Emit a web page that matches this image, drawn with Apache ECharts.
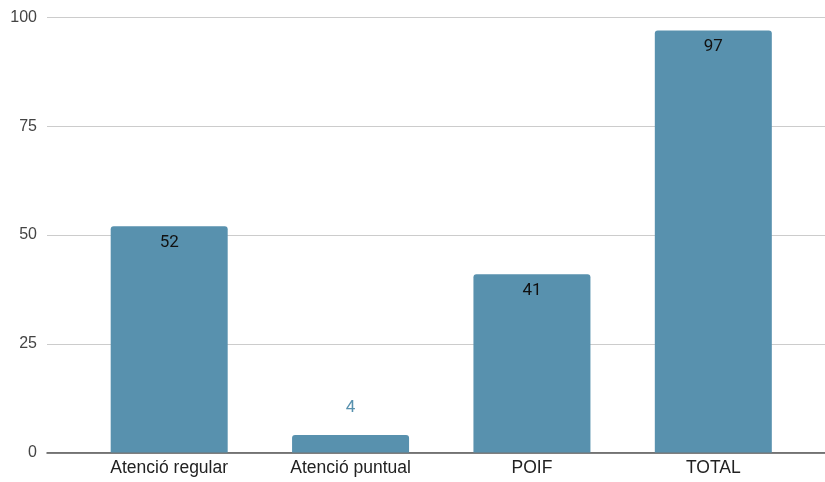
<!DOCTYPE html>
<html><head><meta charset="utf-8">
<script src="https://cdn.jsdelivr.net/npm/echarts@6/dist/echarts.min.js"></script>
<style>html,body{margin:0;padding:0;background:#fff}#c{width:825px;height:482px}</style>
</head><body><div id="c"></div>
<script>
const categories = ['Atenció regular', 'Atenció puntual', 'POIF', 'TOTAL'];
const values = [52, 4, 41, 97];
const yTicks = [0, 25, 50, 75, 100];

const barColor = '#5891ae';
const axisFont = '"Liberation Sans", Arial, sans-serif';
const chart = echarts.init(document.getElementById('c'));
const gridTop = 17.5, gridBottom = 482 - 452.5;
chart.setOption({
  animation: false,
  textStyle: { fontFamily: axisFont },
  grid: [
    { left: 47, right: 0, top: gridTop, bottom: gridBottom },
    { left: 78.5, right: 21, top: gridTop, bottom: gridBottom }
  ],
  xAxis: [
    { gridIndex: 0, type: 'category', data: categories, axisTick: { show: false },
      axisLabel: { show: false }, axisLine: { lineStyle: { color: '#555', width: 1.5 } } },
    { gridIndex: 1, type: 'category', data: categories, axisTick: { show: false },
      axisLine: { show: false },
      axisLabel: { color: '#222', fontSize: 17.5, margin: 7, fontFamily: axisFont } }
  ],
  yAxis: [
    { gridIndex: 0, type: 'value', min: yTicks[0], max: yTicks[yTicks.length - 1], interval: 25,
      axisLabel: { color: '#444', fontSize: 16, margin: 10, fontFamily: axisFont },
      splitLine: { lineStyle: { color: '#ccc', width: 1 } },
      axisLine: { show: false }, axisTick: { show: false } },
    { gridIndex: 1, type: 'value', min: 0, max: 100, interval: 25, show: false,
      splitLine: { show: false } }
  ],
  series: [{
    type: 'bar', xAxisIndex: 1, yAxisIndex: 1, barWidth: 117,
    data: values.map(v => v < 10 ? {
      value: v,
      label: { position: 'top', color: barColor, distance: 19 }
    } : v),
    itemStyle: { color: barColor, borderRadius: [3, 3, 0, 0] },
    label: { show: true, position: 'insideTop', distance: 8, color: '#111', fontSize: 17, fontFamily: 'Roboto' }
  }]
});
</script></body></html>
